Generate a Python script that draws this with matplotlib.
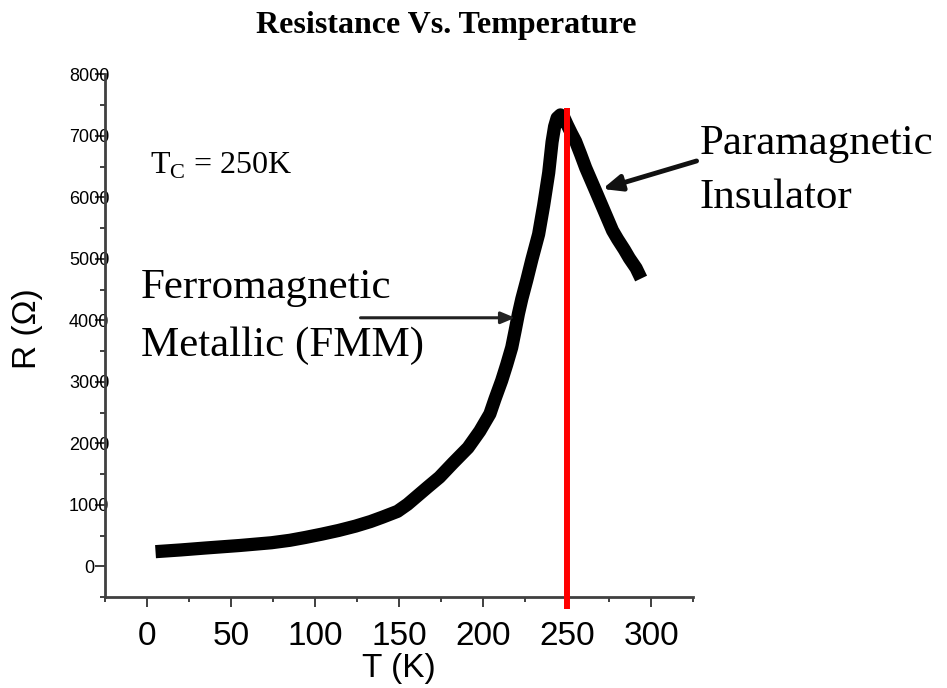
import numpy as np
import matplotlib
matplotlib.use('Agg')
import matplotlib.pyplot as plt
from matplotlib.ticker import MultipleLocator

plt.rcParams['font.family'] = 'Liberation Sans'
plt.rcParams['mathtext.fontset'] = 'custom'
plt.rcParams['mathtext.rm'] = 'Liberation Serif'

# 온도(K) / 저항(Ω) 측정값
temp = [5, 20, 35, 55, 74, 85, 94, 104, 114, 124, 133, 140, 149, 155, 161, 167, 174, 182,
        191, 198, 204, 207, 211, 214, 217, 219, 221, 223, 226, 229, 233, 236, 239, 241,
        242.5, 244, 246, 248, 250, 252.5, 255, 258, 261, 264, 267, 272, 277, 280, 284,
        287, 291, 294]
res = [240, 268, 300, 340, 385, 425, 470, 525, 585, 655, 730, 800, 895, 1010, 1150, 1290, 1450, 1680,
       1930, 2200, 2480, 2720, 3020, 3280, 3560, 3830, 4110, 4350, 4660, 4990, 5400, 5870, 6400, 6900,
       7150, 7290, 7340, 7300, 7180, 7040, 6910, 6700, 6480, 6290, 6100, 5780, 5460, 5320, 5150,
       5010, 4850, 4680]
tc = 250                      # 큐리 온도
xTicks = [0, 50, 100, 150, 200, 250, 300]
yTicks = [0, 1000, 2000, 3000, 4000, 5000, 6000, 7000, 8000]

fig = plt.figure(figsize=(9.47, 6.88), dpi=100)
ax = fig.add_axes([0.111, 0.132, 0.621, 0.760])

# 저항 곡선 (굵은 검정선)
ax.plot(temp, res, color='black', lw=9.5, solid_capstyle='butt', solid_joinstyle='round', zorder=3)
# Tc 표시 빨간 세로선
ax.plot([tc, tc], [-700, 7450], color='#ff0000', lw=4.3, solid_capstyle='butt', clip_on=False, zorder=4)

ax.set_xlim(-25, 325)
ax.set_ylim(-500, 8000)
ax.set_xticks(xTicks)
ax.set_yticks(yTicks)
ax.xaxis.set_minor_locator(MultipleLocator(25))
ax.yaxis.set_minor_locator(MultipleLocator(500))

# 프레임: 왼쪽/아래 축만
for side in ['top', 'right']:
    ax.spines[side].set_visible(False)
for side in ['left', 'bottom']:
    ax.spines[side].set_color('#404040')
    ax.spines[side].set_linewidth(2)

ax.tick_params(axis='both', which='major', color='#303030', width=1.3, direction='out')
ax.tick_params(axis='both', which='minor', color='#303030', width=1.3, direction='out')
ax.tick_params(axis='x', which='major', length=7, labelsize=24, pad=10)
ax.tick_params(axis='x', which='minor', length=3.5)
ax.tick_params(axis='y', which='major', length=7, labelsize=13, pad=4.5)
ax.tick_params(axis='y', which='minor', length=3.5)
# y축 숫자는 가운데 정렬
for lab in ax.get_yticklabels():
    lab.set_horizontalalignment('center')

ax.set_xlabel('T (K)', fontsize=24)
ax.xaxis.set_label_coords(0.5, -0.136)
ax.xaxis.label.set_va('center')
ax.set_ylabel('R (Ω)', fontsize=24)
ax.yaxis.set_label_coords(-0.105, 0.514)

# 제목
fig.text(446 / 947, 1 - 25 / 688, 'Resistance Vs. Temperature', family='Liberation Serif',
         fontweight='bold', fontsize=23, ha='center', va='center')

serif = 'Liberation Serif'
ax.text(1.8, 6380, r'T$_\mathrm{C}$ = 250K', family=serif, fontsize=23, va='baseline')
ax.text(-3.6, 4367, 'Ferromagnetic', family=serif, fontsize=31, va='baseline')
ax.text(-3.6, 3425, 'Metallic (FMM)', family=serif, fontsize=31, va='baseline')
ax.text(329, 6705, 'Paramagnetic', family=serif, fontsize=31, va='baseline', clip_on=False)
ax.text(329, 5828, 'Insulator', family=serif, fontsize=31, va='baseline', clip_on=False)

# 화살표
ax.annotate('', xy=(219, 4042), xytext=(127, 4042),
            arrowprops=dict(arrowstyle='-|>,head_length=0.6,head_width=0.25', color='#222222',
                            lw=2.2, mutation_scale=14, shrinkA=0, shrinkB=0))
ax.annotate('', xy=(271, 6136), xytext=(327, 6591), annotation_clip=False,
            arrowprops=dict(arrowstyle='-|>,head_length=0.7,head_width=0.3', color='#111111',
                            lw=3.5, mutation_scale=16, shrinkA=0, shrinkB=0))

plt.savefig('out.png', dpi=100)
